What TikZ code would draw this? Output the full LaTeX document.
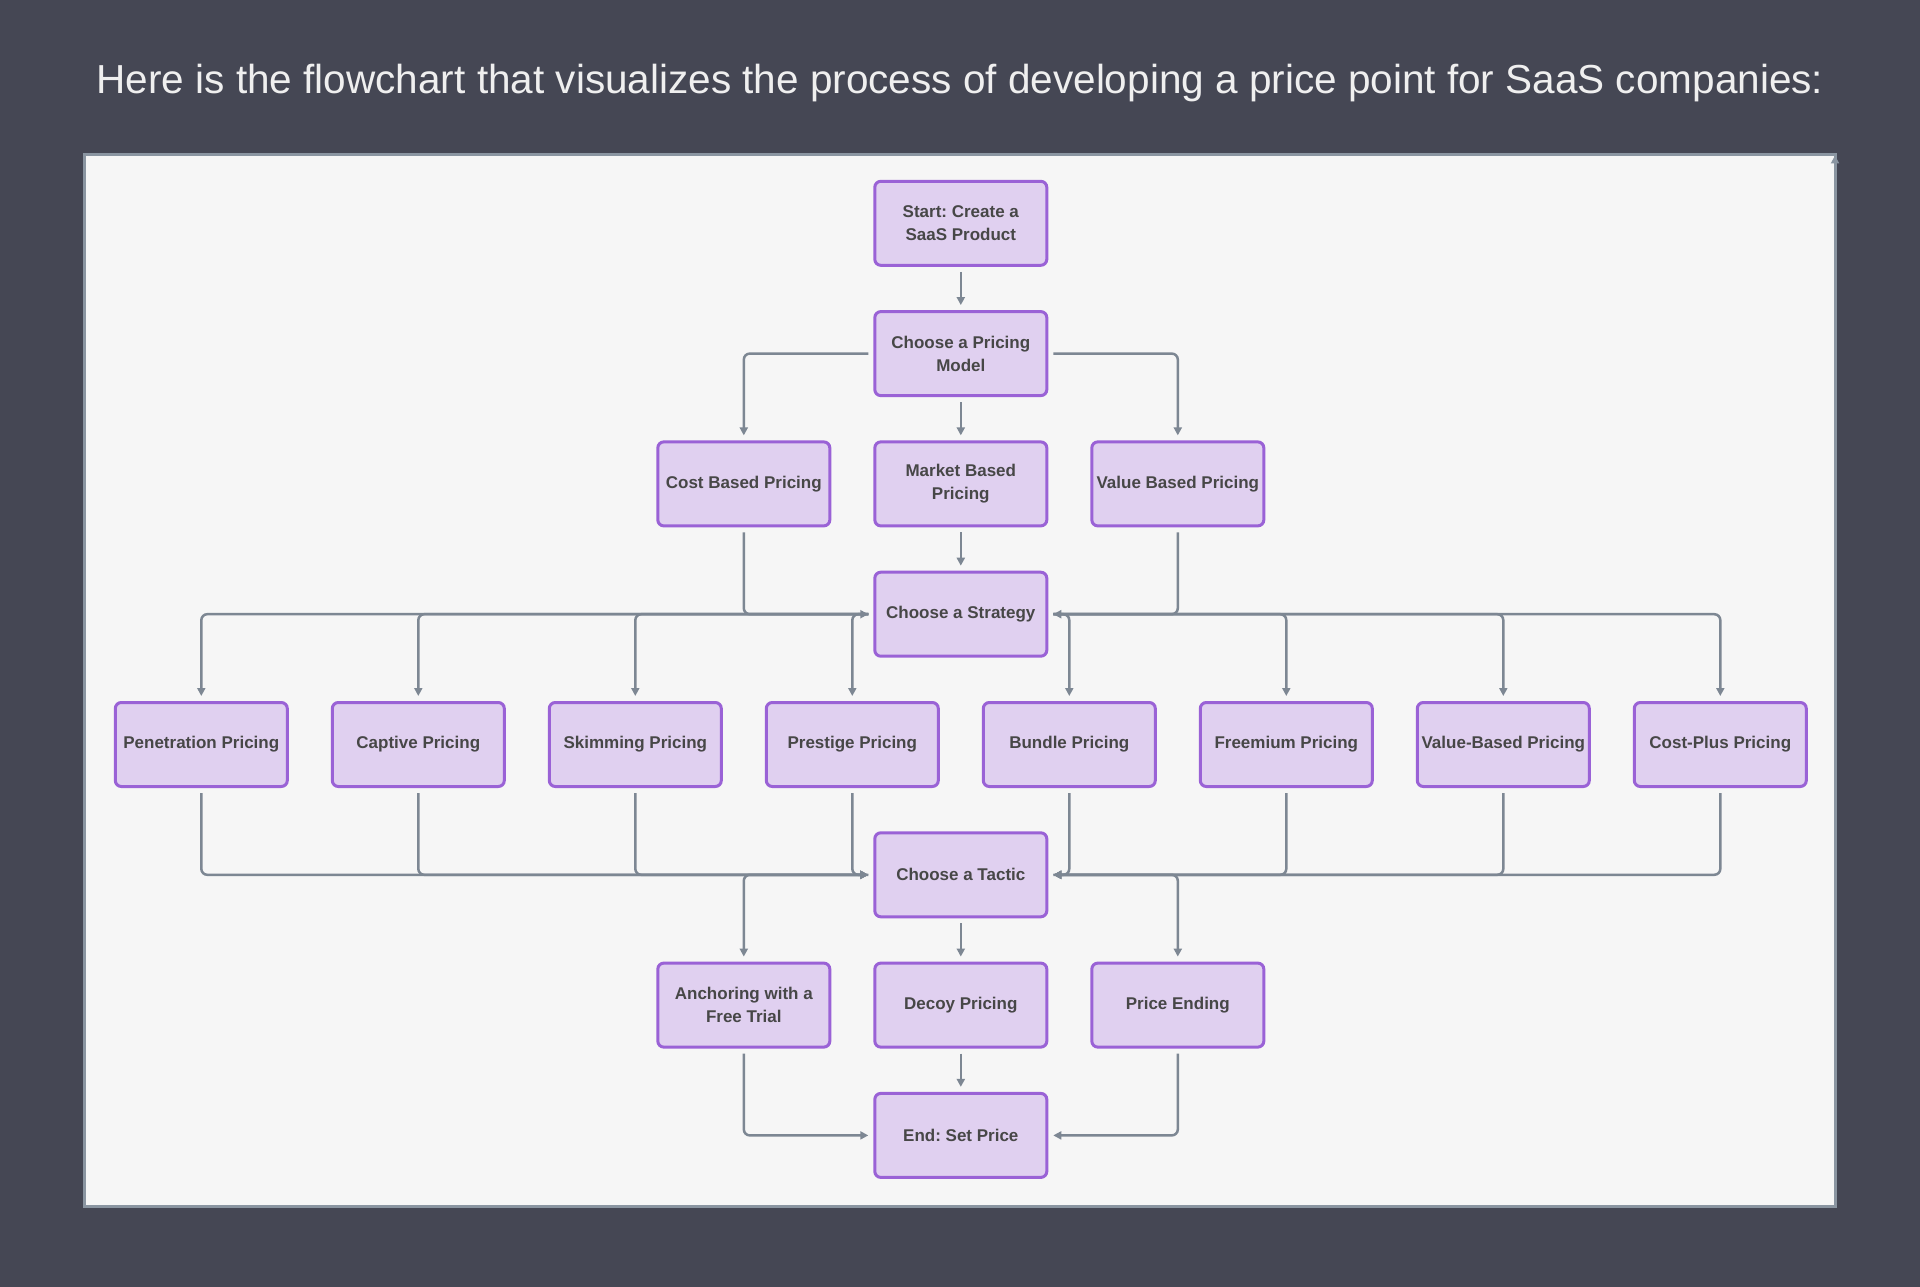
\documentclass[tikz,border=0pt]{standalone}
\usepackage{fontspec}
\setmainfont{Liberation Sans}
\usetikzlibrary{arrows.meta}
\frenchspacing
\definecolor{bgc}{HTML}{454754}
\definecolor{titlec}{HTML}{EFEFEF}
\definecolor{panelc}{HTML}{F6F6F6}
\definecolor{framec}{HTML}{8A95A1}
\definecolor{nodefill}{HTML}{E0D0F0}
\definecolor{nodedraw}{HTML}{9A62D6}
\definecolor{nodetext}{HTML}{474747}
\definecolor{linkc}{HTML}{7D8793}
\tikzset{
  box/.style={draw=nodedraw, fill=nodefill, line width=3pt, rounded corners=6pt,
    minimum width=172pt, minimum height=84pt, inner sep=0pt, align=center,
    text=nodetext, font=\bfseries\fontsize{17}{23.3}\selectfont},
  link/.style={draw=linkc, line width=2.5pt, rounded corners=6pt,
    -{Triangle[length=8pt,width=8pt]}, shorten >=5pt, shorten <=5pt},
}
\begin{document}
\frenchspacing
\begin{tikzpicture}[x=1pt,y=-1pt]
\fill[bgc] (0,0) rectangle (1920,1287);
\useasboundingbox (0,0) rectangle (1920,1287);
\node[text=titlec, font=\fontsize{40.5}{48}\selectfont, anchor=base, inner sep=0pt] (title) at (960,93.5)
  {Here is the flowchart that visualizes the process of developing a price point for SaaS companies:};
\fill[panelc] (84,155) rectangle (1835,1206);
\draw[framec, line width=3pt] (84,155) rectangle (1835,1206);
\draw[framec, line width=3pt, -{Triangle[length=8pt,width=8pt]}] (1835,1206) -- (1835,155.5);
% nodes
\node[box] (start) at (960.8,223.3) {Start: Create a\\SaaS Product};
\node[box] (model) at (960.8,353.6) {Choose a Pricing\\Model};
\node[box] (cost) at (743.8,483.9) {Cost Based Pricing};
\node[box] (market) at (960.8,483.9) {Market Based\\Pricing};
\node[box] (value) at (1177.8,483.9) {Value Based Pricing};
\node[box] (strat) at (960.8,614.2) {Choose a Strategy};
\node[box] (pen) at (201.3,744.5) {Penetration Pricing};
\node[box] (cap) at (418.3,744.5) {Captive Pricing};
\node[box] (skim) at (635.3,744.5) {Skimming Pricing};
\node[box] (pres) at (852.3,744.5) {Prestige Pricing};
\node[box] (bund) at (1069.3,744.5) {Bundle Pricing};
\node[box] (free) at (1286.3,744.5) {Freemium Pricing};
\node[box] (valb) at (1503.3,744.5) {Value-Based Pricing};
\node[box] (costp) at (1720.3,744.5) {Cost-Plus Pricing};
\node[box] (tactic) at (960.8,874.8) {Choose a Tactic};
\node[box] (anchor) at (743.8,1005.1) {Anchoring with a\\Free Trial};
\node[box] (decoy) at (960.8,1005.1) {Decoy Pricing};
\node[box] (ending) at (1177.8,1005.1) {Price Ending};
\node[box] (end) at (960.8,1135.4) {End: Set Price};
% links
\draw[link] (start) -- (model);
\draw[link] (model.west) -| (cost.north);
\draw[link] (model) -- (market);
\draw[link] (model.east) -| (value.north);
\draw[link] (cost.south) |- (strat.west);
\draw[link] (market) -- (strat);
\draw[link] (value.south) |- (strat.east);
\foreach \n in {pen,cap,skim,pres}{
  \draw[link] (strat.west) -| (\n.north);
  \draw[link] (\n.south) |- (tactic.west);
}
\foreach \n in {bund,free,valb,costp}{
  \draw[link] (strat.east) -| (\n.north);
  \draw[link] (\n.south) |- (tactic.east);
}
\draw[link] (tactic.west) -| (anchor.north);
\draw[link] (tactic) -- (decoy);
\draw[link] (tactic.east) -| (ending.north);
\draw[link] (anchor.south) |- (end.west);
\draw[link] (decoy) -- (end);
\draw[link] (ending.south) |- (end.east);
\end{tikzpicture}
\end{document}
